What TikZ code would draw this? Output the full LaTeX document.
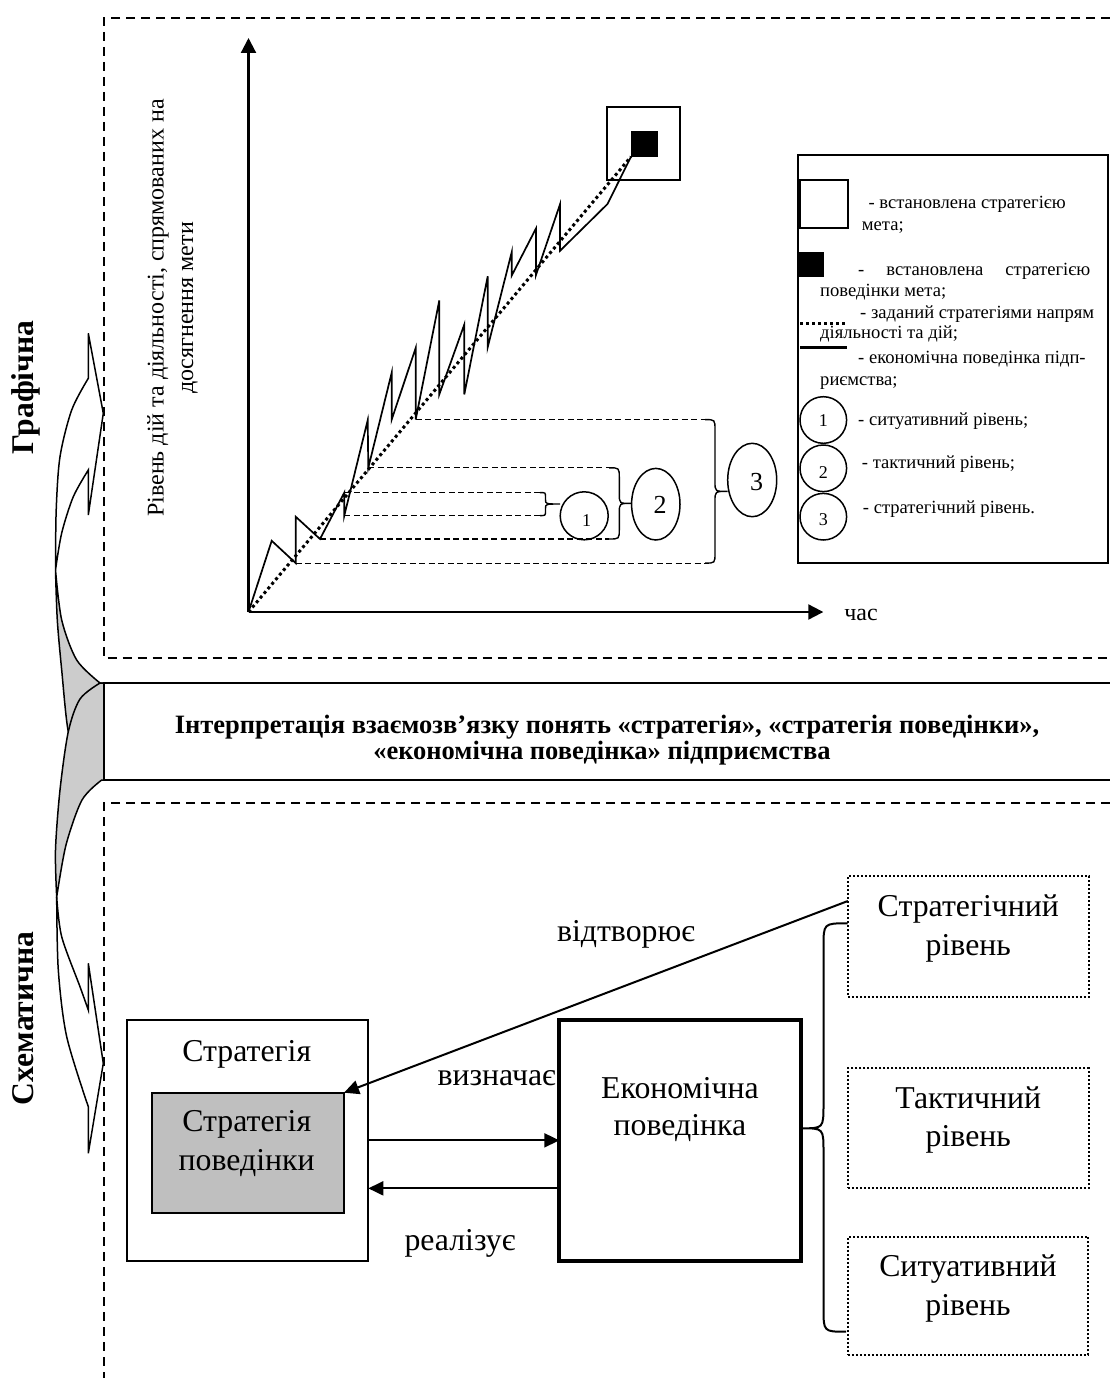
\documentclass[tikz,border=0pt]{standalone}
\usepackage{fontspec}
\setmainfont{Liberation Serif}
\usetikzlibrary{arrows.meta,shapes.geometric}
\begin{document}
\begin{tikzpicture}[x=1pt,y=-1pt,
  frame/.style={line width=1.8pt, dash pattern=on 9pt off 6pt},
  brk/.style={line width=1.2pt, dash pattern=on 6pt off 3.5pt},
  brace/.style={line width=1.4pt},
  dotline/.style={line width=3pt, dash pattern=on 3pt off 3pt},
  zz/.style={line width=1.7pt, line join=miter},
  axis/.style={line width=2.2pt, -{Triangle[length=15pt,width=15pt]}},
  arr/.style={line width=2pt, -{Triangle[length=15pt,width=14pt]}},
  lvl/.style={draw, line width=2pt, dash pattern=on 2pt off 2pt, minimum width=241pt, inner sep=0pt, outer sep=0pt},
  plain/.style={draw, inner sep=0pt, outer sep=0pt},
  ribbon/.style={line width=1.5pt, line join=miter},
  tbig/.style={font=\fontsize{31.8}{38}\selectfont, inner sep=0pt, anchor=base},
  tleg/.style={font=\fontsize{18.6}{22}\selectfont, inner sep=0pt, anchor=base west},
  tnum/.style={font=\fontsize{18}{22}\selectfont, inner sep=0pt, anchor=base},
  tnumb/.style={font=\fontsize{26}{30}\selectfont, inner sep=0pt, anchor=base},
  tside/.style={font=\fontsize{31.6}{36}\selectfont\bfseries, inner sep=0pt, anchor=base, rotate=90},
  ttitle/.style={font=\fontsize{26.5}{26}\selectfont\bfseries, inner sep=0pt, anchor=base},
  tax/.style={font=\fontsize{24}{29}\selectfont, inner sep=0pt, anchor=base, rotate=90}
]
\useasboundingbox (0,0) rectangle (1110,1378);
\fill[white] (0,0) rectangle (1110,1378);

% ---------- frames ----------
\draw[frame] (1110,18) -- (104,18) -- (104,658.3) -- (1110,658.3);
\draw[frame] (1110,803) -- (104,803) -- (104,1378);

% ---------- left curved arrows ----------
\filldraw[ribbon, fill=black!20] plot[smooth] coordinates {(55.5,570) (61.7,620) (76.7,660) (100,683)}
  -- (104,683) -- (104,780) -- (101.7,780)
  -- plot[smooth] coordinates {(101.7,780) (80,763) (68.3,731.7) (61.7,670) (57.3,620) (55.5,570)} -- cycle;
\filldraw[ribbon, fill=white] plot[smooth] coordinates {(55.5,570) (56.2,510) (60,456.7) (71.7,410) (88.3,378.3)}
  -- (88.3,333.3) -- (103.3,413.3) -- (88.3,515) -- (88.3,470)
  -- plot[smooth] coordinates {(88.3,470) (73.3,496.7) (61.7,533) (55.5,570)} -- cycle;
\filldraw[ribbon, fill=black!20] plot[smooth] coordinates {(100,683) (80,699) (68.3,731.7) (60,790) (55.5,850) (56.7,897)}
  -- plot[smooth] coordinates {(56.7,897) (66,845) (82,800) (101.7,780)}
  -- (104,780) -- (104,683) -- cycle;
\filldraw[ribbon, fill=white] plot[smooth] coordinates {(56.7,897) (58.3,970) (66.7,1036.7) (88.3,1106.7)}
  -- (88.3,1153.3) -- (103.3,1063.3) -- (88.3,963.3) -- (88.3,1010)
  -- plot[smooth] coordinates {(88.3,1010) (80,986.7) (61.7,936.7) (56.7,897)} -- cycle;

\node[tside] (graf) at (33.3,387.5) {Графічна};
\node[tside] (schem) at (33.3,1018.3) {Схематична};

% ---------- interpretation box ----------
\draw[line width=2.5pt] (1110,683) -- (104,683) -- (104,780) -- (1110,780);
\node[ttitle] (title1) at (607,733.3) {Інтерпретація взаємозв’язку понять «стратегія», «стратегія поведінки»,};
\node[ttitle] (title2) at (602,759.3) {«економічна поведінка» підприємства};

% ---------- chart ----------
\coordinate (O) at (248.5,612);
\draw[axis] (O) -- (248.5,38);
\draw[axis] (O) -- (823.3,612);
\node[tax] (ylab1) at (163.5,308) {Рівень дій та діяльності, спрямованих на};
\node[tax] (ylab2) at (193,308) {досягнення мети};
\node[font=\fontsize{24}{29}\selectfont, inner sep=0pt, anchor=base] (time) at (861,620.7) {час};

\node[plain, line width=1.8pt, minimum width=72.7pt, minimum height=72.7pt] (goal) at (643.65,143.65) {};
\node[fill=black, inner sep=0pt, outer sep=0pt, minimum width=26.7pt, minimum height=25.7pt] (bgoal) at (644.35,143.85) {};

\draw[dotline] (O) -- (bgoal.south west);
\draw[zz] (O) -- (271.7,540.8) -- (295.7,563.1) -- (295.7,516.7) -- (320,539) -- (344.3,492.6)
  -- (344.3,515.6) -- (367.7,420.2) -- (368.3,467.8) -- (391.7,372.7) -- (391.7,419.6)
  -- (415.7,347.9) -- (415.7,419.6) -- (439.3,300.4) -- (439.3,394.4) -- (464.3,324.5)
  -- (464.3,394.4) -- (487.7,276.3) -- (487.7,347.2) -- (511.7,252.2) -- (511.7,275.6)
  -- (536,228.4) -- (536,274.9) -- (560,204.3) -- (560,250.8) -- (607.5,204) -- (bgoal.south west);

% brackets
\draw[brk] (344.3,492.6) -- (540,492.6);
\draw[brk] (344.3,515.6) -- (540,515.6);
\draw[brace] (540,492.6) .. controls (545.5,492.6) .. (545.5,497) -- (545.5,499.5)
  .. controls (545.5,504) .. (560,504) .. controls (545.5,504) .. (545.5,508.5) -- (545.5,511)
  .. controls (545.5,515.6) .. (540,515.6);
\draw[brk] (368.3,467.8) -- (609,467.8);
\draw[brk] (320,539) -- (609,539);
\draw[brace] (609,467.8) .. controls (619.3,467.8) .. (619.3,478) -- (619.3,494)
  .. controls (619.3,503.4) .. (631,503.4) .. controls (619.3,503.4) .. (619.3,513) -- (619.3,529)
  .. controls (619.3,539) .. (609,539);
\draw[brk] (415.7,419.6) -- (705,419.6);
\draw[brk] (295.7,563.1) -- (705,563.1);
\draw[brace] (705,419.6) .. controls (715,419.6) .. (715,430) -- (715,482)
  .. controls (715,491.4) .. (727.5,491.4) .. controls (715,491.4) .. (715,501) -- (715,553)
  .. controls (715,563.1) .. (705,563.1);

\node[ellipse, plain, line width=1.5pt, minimum width=48pt, minimum height=48pt] (e1) at (584.2,515.8) {};
\node[ellipse, plain, line width=1.5pt, minimum width=48.4pt, minimum height=71.6pt] (e2) at (655.8,504.2) {};
\node[ellipse, plain, line width=1.5pt, minimum width=49pt, minimum height=73.4pt] (e3) at (752.2,480) {};
\node[tnum] (n1) at (586.7,526.7) {1};
\node[tnumb] (n2) at (660,513.3) {2};
\node[tnumb] (n3) at (756.7,490) {3};

% ---------- legend ----------
\node[plain, line width=2pt, minimum width=309.7pt, minimum height=408pt] (legend) at (953.15,359) {};
\node[plain, line width=1.8pt, minimum width=48.3pt, minimum height=48.3pt] (lwhite) at (824.15,204.15) {};
\node[fill=black, inner sep=0pt, outer sep=0pt, minimum width=26pt, minimum height=25pt] (lblack) at (811.3,264.2) {};
\draw[dotline] (800,323.3) -- (847,323.3);
\draw[line width=2.5pt] (800,347.7) -- (847,347.7);
\node[circle, plain, line width=1.5pt, minimum size=46.6pt] (lc1) at (823.3,420) {};
\node[circle, plain, line width=1.5pt, minimum size=46.6pt] (lc2) at (823.3,468.3) {};
\node[circle, plain, line width=1.5pt, minimum size=46.6pt] (lc3) at (823.3,516.7) {};
\node[tnum] (ln1) at (823.3,426) {1};
\node[tnum] (ln2) at (823.3,478.3) {2};
\node[tnum] (ln3) at (823.3,525) {3};
\node[tleg] (lt1) at (868.3,208.3) {- встановлена стратегією};
\node[tleg] (lt2) at (861.7,230) {мета;};
\node[tleg] (lt3) at (858,275) {\makebox[232pt][s]{- встановлена стратегією}};
\node[tleg] (lt4) at (820,296.7) {поведінки мета;};
\node[tleg] (lt5) at (860,318.3) {- заданий стратегіями напрям};
\node[tleg] (lt6) at (820,338.3) {діяльності та дій;};
\node[tleg] (lt7) at (858,363.3) {- економічна поведінка підп-};
\node[tleg] (lt8) at (820,385) {риємства;};
\node[tleg] (lt9) at (858,425) {- ситуативний рівень;};
\node[tleg] (lt10) at (861.7,468.3) {- тактичний рівень;};
\node[tleg] (lt11) at (862.7,513.3) {- стратегічний рівень.};

% ---------- schematic ----------
\node[plain, line width=2pt, minimum width=241pt, minimum height=240.7pt] (stratbox) at (247.8,1140.35) {};
\node[plain, line width=2pt, fill=black!25, minimum width=192.3pt, minimum height=120pt] (behbox) at (247.85,1152.7) {};
\node[plain, line width=4pt, minimum width=241.7pt, minimum height=240.7pt] (econbox) at (680.15,1140.35) {};
\node[lvl, minimum height=120.7pt] (strlev) at (968.35,936.35) {};
\node[lvl, minimum height=119.4pt] (taclev) at (968.35,1128) {};
\node[lvl, minimum width=240.3pt, minimum height=118.3pt] (sitlev) at (968,1295.85) {};

\node[tbig] (tstrat) at (246.7,1061.7) {Стратегія};
\node[tbig] (tbeh1) at (246.7,1131.7) {Стратегія};
\node[tbig] (tbeh2) at (246.7,1170) {поведінки};
\node[tbig] (tecon1) at (680,1098.3) {Економічна};
\node[tbig] (tecon2) at (680,1135) {поведінка};
\node[tbig] (tsl1) at (968.3,916.7) {Стратегічний};
\node[tbig] (tsl2) at (968.3,955) {рівень};
\node[tbig] (ttl1) at (968.3,1108.3) {Тактичний};
\node[tbig] (ttl2) at (968.3,1146.7) {рівень};
\node[tbig] (tsi1) at (968,1276.7) {Ситуативний};
\node[tbig] (tsi2) at (968,1315) {рівень};

\draw[arr] (stratbox.east) -- (econbox.west);
\draw[arr] ([yshift=-48pt]econbox.west) -- ([yshift=-48pt]stratbox.east);
\draw[arr] ([yshift=-25pt]strlev.north west) -- (behbox.north east);
\node[tbig] (lbl1) at (496.7,1085) {визначає};
\node[tbig] (lbl2) at (460,1250) {реалізує};
\node[tbig] (lbl3) at (626,941.7) {відтворює};

\draw[line width=2pt] (847.7,923.3) .. controls (823.5,923.3) .. (823.5,947) -- (823.5,1104)
  .. controls (823.5,1128.3) .. (801.7,1128.3) .. controls (823.5,1128.3) .. (823.5,1152) -- (823.5,1308)
  .. controls (823.5,1331.7) .. (846,1331.7);
\end{tikzpicture}
\end{document}
